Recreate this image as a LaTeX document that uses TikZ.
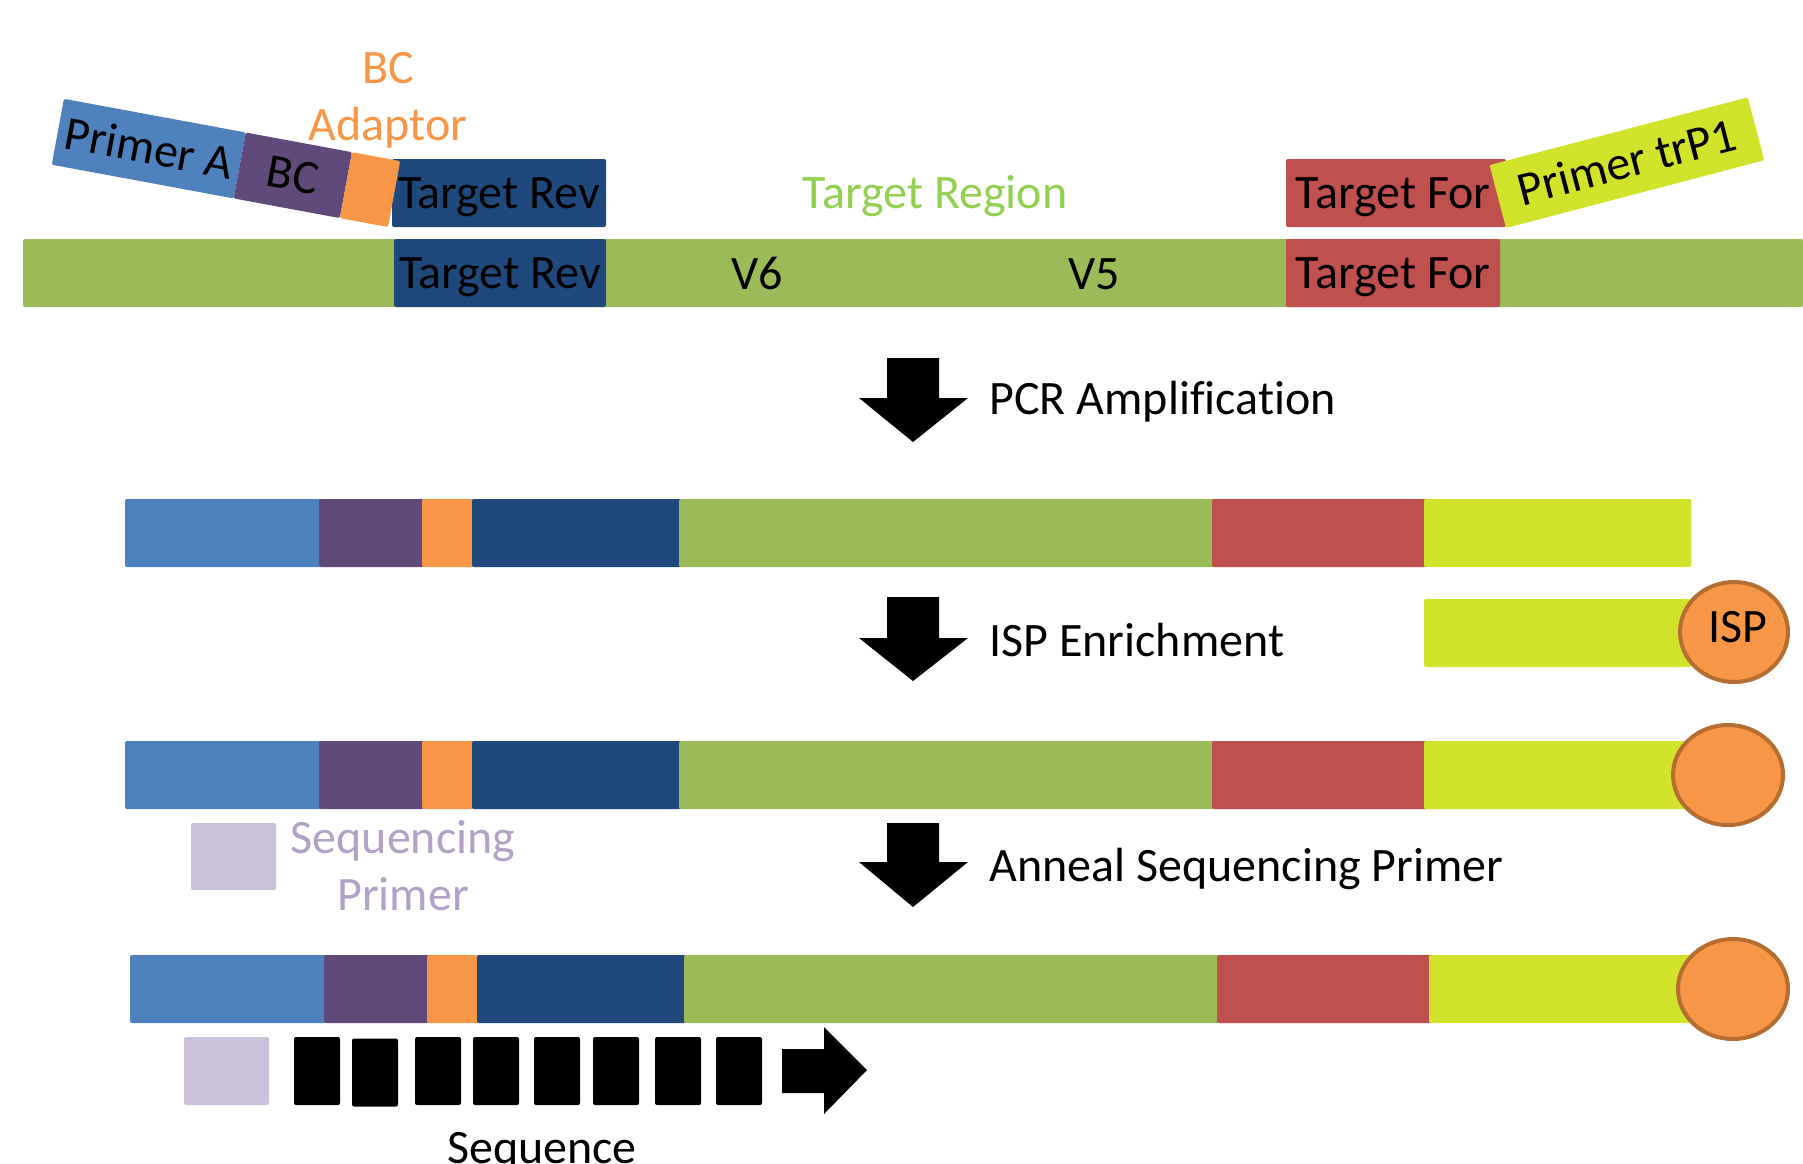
\documentclass[tikz,border=0pt]{standalone}
\usepackage{fontspec}
\setmainfont[Ligatures=NoCommon]{Carlito}
\definecolor{cblue}{HTML}{4F81BD}
\definecolor{cpurple}{HTML}{604A7B}
\definecolor{corange}{HTML}{F79646}
\definecolor{cnavy}{HTML}{1F497D}
\definecolor{cgreen}{HTML}{9BBB59}
\definecolor{cred}{HTML}{C0504D}
\definecolor{cyellow}{HTML}{D1E22B}
\definecolor{ctextgreen}{HTML}{92D050}
\definecolor{clav}{HTML}{CCC1DA}
\definecolor{clavtext}{HTML}{B3A2C7}
\definecolor{cbrown}{HTML}{B66D31}
\newcommand\stepdown[3]{%
  \fill[blockarrow] (887,#1) -- (939,#1) -- (939,#2) -- (968,#2) -- (913,#3) -- (859,#2) -- (887,#2) -- cycle;}
\newcommand\amplicon[2]{%
  \begin{scope}[shift={(#1,#2)}]
    \fill[seg, cblue] (125,0) rectangle (321,68);
    \fill[seg, cpurple] (319,0) rectangle (424,68);
    \fill[seg, corange] (422,0) rectangle (474,68);
    \fill[seg, cnavy] (472,0) rectangle (681,68);
    \fill[seg, cgreen] (679,0) rectangle (1214,68);
    \fill[seg, cred] (1212,0) rectangle (1426,68);
    \fill[seg, cyellow] (1424,0) rectangle (1691,68);
  \end{scope}}
\begin{document}
\begin{tikzpicture}[x=0.5pt,y=-0.5pt,
  lbl/.style={font=\fontsize{24}{29}\selectfont, inner sep=0pt, text height=15.4pt, text depth=0pt},
  seg/.style={rounded corners=1pt},
  bead/.style={fill=corange, draw=cbrown, line width=2pt},
  blockarrow/.style={fill=black}]
\useasboundingbox (0,0) rectangle (1803,1163);
\fill[white] (0,0) rectangle (1803,1163);

% ---------- top: template with primers ----------
\fill[seg, cgreen] (23,239) rectangle (1803,307);
\fill[seg, cnavy] (394,239) rectangle (606,307);
\fill[seg, cred] (1286,239) rectangle (1500,307);
\fill[seg, cnavy] (392,159) rectangle (606,227);
\fill[seg, cred] (1286,159) rectangle (1506,227);

\node[lbl] (trevb) at (500,273) {Target Rev};
\node[lbl] (tforb) at (1393,273) {Target For};
\node[lbl] (trevt) at (499,193) {Target Rev};
\node[lbl] (tfort) at (1393,193) {Target For};
\node[lbl] (v6) at (757,274) {V6};
\node[lbl] (v5) at (1094,274) {V5};
\node[lbl, text=ctextgreen] (treg) at (935,193) {Target Region};
\node[lbl, text=corange] (bc1) at (388,68) {BC};
\node[lbl, text=corange] (bc2) at (388,125) {Adaptor};

% Primer A / BC / adaptor strip
\begin{scope}[shift={(388,227)}, rotate=-10.5]
  \fill[seg, cblue] (-342,-67) rectangle (-157,0);
  \fill[seg, cpurple] (-157,-67) rectangle (-49,0);
  \fill[seg, corange] (-49,-67) rectangle (0,0);
  \node[lbl, transform shape] (pa) at (-249,-33.5) {Primer A};
  \node[lbl, transform shape] (bcl) at (-103,-33.5) {BC};
\end{scope}

% Primer trP1 strip
\begin{scope}[shift={(1506,228)}, rotate=14.7]
  \fill[seg, cyellow] (0,-65) rectangle (267,0);
  \node[lbl, transform shape] (trp) at (133.5,-32.5) {Primer trP1};
\end{scope}

% ---------- step arrows ----------
\stepdown{358}{398}{442}
\stepdown{597}{638}{681}
\stepdown{823}{862}{907}
\node[lbl, anchor=west] (pcr) at (989,399) {PCR Amplification};
\node[lbl, anchor=west] (isp) at (989,641) {ISP Enrichment};
\node[lbl, anchor=west] (ann) at (989,866) {Anneal Sequencing Primer};

% ---------- amplicon rows ----------
\amplicon{0}{499}
\amplicon{0}{741}
\amplicon{5}{955}

% ISP strand
\fill[seg, cyellow] (1424,599) rectangle (1691,667);
\draw[bead] (1734,632) ellipse [x radius=54, y radius=50];
\node[lbl] (ispt) at (1738,627) {ISP};
\draw[bead] (1728,775) ellipse [x radius=55, y radius=50];
\draw[bead] (1733,989) ellipse [x radius=55, y radius=50];

% sequencing primer legend
\fill[seg, clav] (191,823) rectangle (276,890);
\node[lbl, text=clavtext] (sq1) at (403,838) {Sequencing};
\node[lbl, text=clavtext] (sq2) at (403,895) {Primer};

% ---------- sequencing read ----------
\fill[seg, clav] (184,1037) rectangle (269,1105);
\foreach \xa/\dy in {294/0,352/1.5,415/0,473/0,534/0,593/0,655/0,716/0}{
  \fill[seg, black] (\xa,1037+\dy) rectangle (\xa+46,1105+\dy);
}
\fill[blockarrow] (782,1049) -- (824,1049) -- (824,1027) -- (867,1070) -- (824,1114) -- (824,1093) -- (782,1093) -- cycle;
\node[lbl] (seq) at (542,1148) {Sequence};
\end{tikzpicture}
\end{document}
